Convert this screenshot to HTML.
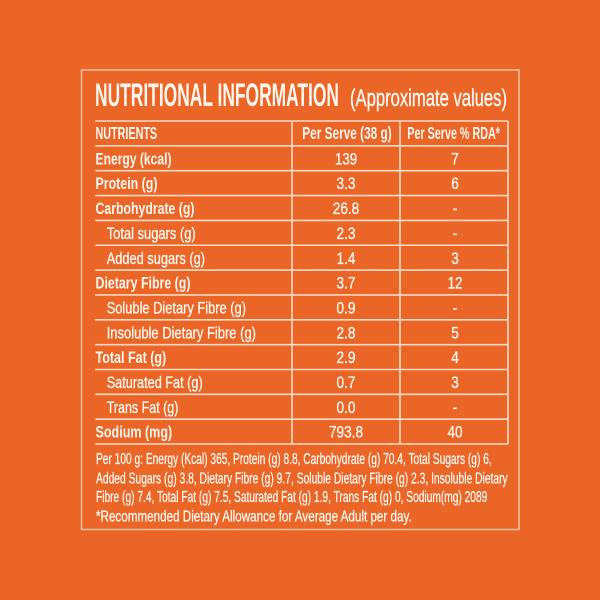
<!DOCTYPE html>
<html>
<head>
<meta charset="utf-8">
<style>
  html,body{margin:0;padding:0;background:#EB6527;}
  svg{display:block;}
  text{font-family:"Liberation Sans",sans-serif;fill:#FFF7EF;}
  .b{font-weight:bold;}
  .r{stroke:#FFF7EF;stroke-width:0.35;}
</style>
</head>
<body>
<svg width="600" height="600" viewBox="0 0 600 600" xmlns="http://www.w3.org/2000/svg">
  <rect x="0" y="0" width="600" height="600" fill="#EB6527"/>
  <!-- outer border -->
  <rect x="81.5" y="70" width="437.5" height="459.5" fill="none" stroke="#F6C3A2" stroke-width="1.5"/>

  <!-- title -->
  <text class="b" x="95" y="106" font-size="32" textLength="244" lengthAdjust="spacingAndGlyphs">NUTRITIONAL INFORMATION</text>
  <text class="r" x="350" y="106" font-size="24.5" textLength="157" lengthAdjust="spacingAndGlyphs" style="stroke-width:0.4">(Approximate values)</text>

  <!-- table lines -->
  <g stroke="#FBDCC6" stroke-width="1.6" fill="none">
    <line x1="95" y1="121" x2="508" y2="121"/>
    <line x1="95" y1="145.85" x2="508" y2="145.85"/>
    <line x1="95" y1="170.7" x2="508" y2="170.7"/>
    <line x1="95" y1="195.55" x2="508" y2="195.55"/>
    <line x1="95" y1="220.4" x2="508" y2="220.4"/>
    <line x1="95" y1="245.25" x2="508" y2="245.25"/>
    <line x1="95" y1="270.1" x2="508" y2="270.1"/>
    <line x1="95" y1="294.95" x2="508" y2="294.95"/>
    <line x1="95" y1="319.8" x2="508" y2="319.8"/>
    <line x1="95" y1="344.65" x2="508" y2="344.65"/>
    <line x1="95" y1="369.5" x2="508" y2="369.5"/>
    <line x1="95" y1="394.35" x2="508" y2="394.35"/>
    <line x1="95" y1="419.2" x2="508" y2="419.2"/>
    <line x1="95" y1="444" x2="508" y2="444"/>
    <line x1="292" y1="121" x2="292" y2="444"/>
    <line x1="400" y1="121" x2="400" y2="444"/>
    <line x1="508" y1="121" x2="508" y2="444"/>
  </g>

  <!-- header -->
  <text class="b" x="95.5" y="139" font-size="17.5" textLength="61.6" lengthAdjust="spacingAndGlyphs">NUTRIENTS</text>
  <text class="b" x="302.3" y="139" font-size="17.5" textLength="89.4" lengthAdjust="spacingAndGlyphs">Per Serve (38 g)</text>
  <text class="b" x="407.3" y="139" font-size="17.5" textLength="92.7" lengthAdjust="spacingAndGlyphs">Per Serve % RDA*</text>

  <!-- labels -->
  <text class="b" x="95.5" y="164.35" font-size="17" textLength="76" lengthAdjust="spacingAndGlyphs">Energy (kcal)</text>
  <text class="b" x="95.5" y="189.2" font-size="17" textLength="62" lengthAdjust="spacingAndGlyphs">Protein (g)</text>
  <text class="b" x="95.5" y="214.05" font-size="17" textLength="99" lengthAdjust="spacingAndGlyphs">Carbohydrate (g)</text>
  <text class="r" x="106.7" y="239.2" font-size="17" textLength="89" lengthAdjust="spacingAndGlyphs">Total sugars (g)</text>
  <text class="r" x="106.7" y="263.9" font-size="17" textLength="98.3" lengthAdjust="spacingAndGlyphs">Added sugars (g)</text>
  <text class="b" x="95.5" y="288.6" font-size="17" textLength="95" lengthAdjust="spacingAndGlyphs">Dietary Fibre (g)</text>
  <text class="r" x="106.7" y="313.45" font-size="17" textLength="139.3" lengthAdjust="spacingAndGlyphs">Soluble Dietary Fibre (g)</text>
  <text class="r" x="106.7" y="338.3" font-size="17" textLength="149.3" lengthAdjust="spacingAndGlyphs">Insoluble Dietary Fibre (g)</text>
  <text class="b" x="95.5" y="363.15" font-size="17" textLength="70.7" lengthAdjust="spacingAndGlyphs">Total Fat (g)</text>
  <text class="r" x="106.7" y="388" font-size="17" textLength="96" lengthAdjust="spacingAndGlyphs">Saturated Fat (g)</text>
  <text class="r" x="106.7" y="412.85" font-size="17" textLength="71.7" lengthAdjust="spacingAndGlyphs">Trans Fat (g)</text>
  <text class="b" x="95.5" y="437.7" font-size="17" textLength="76.7" lengthAdjust="spacingAndGlyphs">Sodium (mg)</text>

  <!-- column 2 values -->
  <g font-size="17" text-anchor="middle" class="r">
    <text transform="translate(346,164.35) scale(0.78,1)">139</text>
    <text transform="translate(346,189.2) scale(0.8,1)">3.3</text>
    <text transform="translate(346,214.05) scale(0.8,1)">26.8</text>
    <text transform="translate(346,239.2) scale(0.8,1)">2.3</text>
    <text transform="translate(346,263.9) scale(0.8,1)">1.4</text>
    <text transform="translate(346,288.6) scale(0.8,1)">3.7</text>
    <text transform="translate(346,313.45) scale(0.8,1)">0.9</text>
    <text transform="translate(346,338.3) scale(0.8,1)">2.8</text>
    <text transform="translate(346,363.15) scale(0.8,1)">2.9</text>
    <text transform="translate(346,388) scale(0.8,1)">0.7</text>
    <text transform="translate(346,412.85) scale(0.8,1)">0.0</text>
    <text transform="translate(346,437.7) scale(0.8,1)">793.8</text>
  </g>

  <!-- column 3 values -->
  <g font-size="17" text-anchor="middle" class="r">
    <text transform="translate(455,164.35) scale(0.8,1)">7</text>
    <text transform="translate(455,189.2) scale(0.8,1)">6</text>
    <text transform="translate(455,214.05) scale(0.8,1)">-</text>
    <text transform="translate(455,239.2) scale(0.8,1)">-</text>
    <text transform="translate(455,263.9) scale(0.8,1)">3</text>
    <text transform="translate(455,288.6) scale(0.78,1)">12</text>
    <text transform="translate(455,313.45) scale(0.8,1)">-</text>
    <text transform="translate(455,338.3) scale(0.8,1)">5</text>
    <text transform="translate(455,363.15) scale(0.8,1)">4</text>
    <text transform="translate(455,388) scale(0.8,1)">3</text>
    <text transform="translate(455,412.85) scale(0.8,1)">-</text>
    <text transform="translate(455,437.7) scale(0.8,1)">40</text>
  </g>

  <!-- footnote -->
  <g class="r" style="stroke-width:0.3">
  <text x="96" y="464" font-size="15.3" textLength="395.7" lengthAdjust="spacingAndGlyphs">Per 100 g: Energy (Kcal) 365, Protein (g) 8.8, Carbohydrate (g) 70.4, Total Sugars (g) 6,</text>
  <text x="96" y="483.3" font-size="15.3" textLength="411.7" lengthAdjust="spacingAndGlyphs">Added Sugars (g) 3.8, Dietary Fibre (g) 9.7, Soluble Dietary Fibre (g) 2.3, Insoluble Dietary</text>
  <text x="96" y="502" font-size="15.3" textLength="391.3" lengthAdjust="spacingAndGlyphs">Fibre (g) 7.4, Total Fat (g) 7.5, Saturated Fat (g) 1.9, Trans Fat (g) 0, Sodium(mg) 2089</text>
  <text x="96" y="521.5" font-size="15.3" textLength="315.7" lengthAdjust="spacingAndGlyphs">*Recommended Dietary Allowance for Average Adult per day.</text>
  </g>
</svg>
</body>
</html>
